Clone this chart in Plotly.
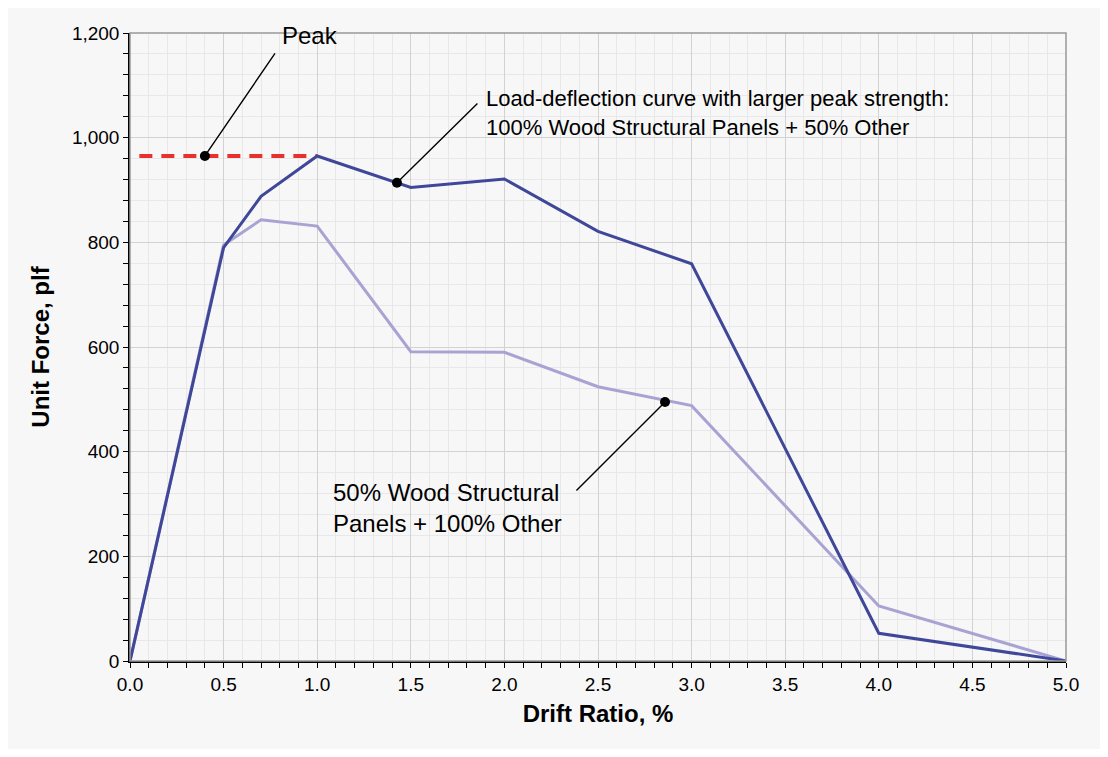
import plotly.graph_objects as go

# Drift ratio (%) at each test point
drift = [0.0, 0.5, 0.7, 1.0, 1.5, 2.0, 2.5, 3.0, 4.0, 5.0]
# Unit force (plf), 100% wood structural panels + 50% other
force_full = [0, 790, 888, 965, 905, 921, 821, 759, 53, 0]
# Unit force (plf), 50% wood structural panels + 100% other
force_half = [0, 795, 843, 831, 591, 590, 524, 488, 105, 0]

peak_value = 965
peak_span = [0.05, 1.0]

x_ticks = [0.0, 0.5, 1.0, 1.5, 2.0, 2.5, 3.0, 3.5, 4.0, 4.5, 5.0]
y_ticks = [0, 200, 400, 600, 800, 1000, 1200]

DARK = "#3f4799"
LIGHT = "#a9a3d3"
RED = "#e8302e"
BG = "#f7f7f7"
FONT = "Liberation Sans, Arial, sans-serif"

fig = go.Figure()

fig.add_trace(go.Scatter(
    x=peak_span, y=[peak_value, peak_value], mode="lines",
    line=dict(color=RED, width=4, dash="13px,9px"), showlegend=False,
))
fig.add_trace(go.Scatter(
    x=drift, y=force_half, mode="lines",
    line=dict(color=LIGHT, width=3), showlegend=False,
))
fig.add_trace(go.Scatter(
    x=drift, y=force_full, mode="lines",
    line=dict(color=DARK, width=3), showlegend=False,
))

# points pointed at by the callouts
dots_x = [0.40, 1.426, 2.858]
dots_y = [965, 914, 495]
fig.add_trace(go.Scatter(
    x=dots_x, y=dots_y, mode="markers",
    marker=dict(color="black", size=10), showlegend=False,
))

callouts = [
    # dot x, dot y, leader end x, leader end y
    (0.40, 965, 0.78, 1164),
    (1.426, 914, 1.864, 1068),
    (2.858, 495, 2.377, 323),
]
for x, y, ax, ay in callouts:
    fig.add_annotation(x=x, y=y, ax=ax, ay=ay, axref="x", ayref="y",
                       text="", showarrow=True, arrowhead=0,
                       arrowwidth=1.4, arrowcolor="black")

fig.add_annotation(x=0.80, y=1195, text="Peak", showarrow=False,
                   xanchor="left", yanchor="middle",
                   font=dict(family=FONT, size=24, color="black"))
fig.add_annotation(x=1.89, y=1048,
                   text="Load-deflection curve with larger peak strength:<br>100% Wood Structural Panels + 50% Other",
                   showarrow=False, xanchor="left", yanchor="middle",
                   align="left", font=dict(family=FONT, size=22, color="black"))
fig.add_annotation(x=1.075, y=293,
                   text="50% Wood Structural<br>Panels + 100% Other",
                   showarrow=False, xanchor="left", yanchor="middle",
                   align="left", font=dict(family=FONT, size=24, color="black"))

# plot border (top / right)
fig.add_shape(type="rect", xref="paper", yref="paper", x0=0, x1=1, y0=0, y1=1,
              line=dict(color="#999999", width=1.5), fillcolor="rgba(0,0,0,0)")

fig.update_xaxes(
    range=[0, 5], tickvals=x_ticks, tickformat=".1f",
    ticks="outside", ticklen=5, tickcolor="black",
    showline=True, linecolor="black", linewidth=1.5,
    showgrid=True, gridcolor="#d2d2d2", gridwidth=1, zeroline=False,
    minor=dict(dtick=0.1, ticks="outside", ticklen=5, tickcolor="black",
               showgrid=True, gridcolor="#e8e8e8"),
    tickfont=dict(family=FONT, size=19, color="black"),
    title=dict(text="<b>Drift Ratio, %</b>", standoff=12,
               font=dict(family=FONT, size=24, color="black")),
)
fig.update_yaxes(
    range=[0, 1200], tickvals=y_ticks, tickformat=",",
    ticks="outside", ticklen=5, tickcolor="black",
    showline=True, linecolor="black", linewidth=1.5,
    showgrid=True, gridcolor="#d2d2d2", gridwidth=1, zeroline=False,
    minor=dict(dtick=40, ticks="outside", ticklen=5, tickcolor="black",
               showgrid=True, gridcolor="#e8e8e8"),
    tickfont=dict(family=FONT, size=19, color="black"),
    title=dict(text="<b>Unit Force, plf</b>", standoff=16,
               font=dict(family=FONT, size=24, color="black")),
)

fig.update_layout(
    width=1092, height=741,
    margin=dict(l=122, r=34, t=25, b=88),
    paper_bgcolor=BG,
    plot_bgcolor=BG,
    font=dict(family=FONT, color="black"),
    showlegend=False,
)

fig.write_html("out.html")
